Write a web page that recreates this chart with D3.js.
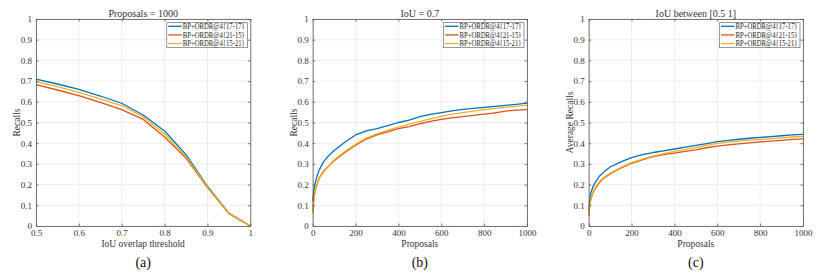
<!DOCTYPE html>
<html lang="en">
<head>
<meta charset="UTF-8">
<title>Recall curves</title>
<script src="https://d3js.org/d3.v7.min.js"></script>
<style>
  body { margin: 0; background: #fff; }
  svg { font-family: "Liberation Serif", "Times New Roman", serif; }
</style>
</head>
<body>
<script>
// series names and colours
var seriesNames = ["BP+ORDR@4{17-17}", "BP+ORDR@4{21-15}", "BP+ORDR@4{15-21}"];
var seriesColors = ["#0072BD", "#D95319", "#EDB120"];

// (a) recall vs IoU threshold, 1000 proposals
var iouThresh = [0.5, 0.55, 0.6, 0.65, 0.7, 0.75, 0.8, 0.85, 0.9, 0.95, 1.0];
var recallA_1717 = [0.709, 0.686, 0.660, 0.628, 0.593, 0.536, 0.459, 0.345, 0.192, 0.062, 0.0];
var recallA_2115 = [0.683, 0.657, 0.630, 0.597, 0.562, 0.515, 0.430, 0.328, 0.185, 0.060, 0.0];
var recallA_1521 = [0.698, 0.673, 0.646, 0.614, 0.582, 0.527, 0.445, 0.335, 0.188, 0.061, 0.0];

// (b) and (c) x values: number of proposals
var proposals = [0, 5, 10, 20, 30, 50, 75, 100, 150, 200, 250, 300, 350, 400, 450, 500,
                 550, 600, 650, 700, 750, 800, 850, 900, 950, 1000];

// (b) recall at IoU = 0.7
var recallB_1717 = [0.12, 0.17, 0.20, 0.24, 0.27, 0.31, 0.34, 0.365, 0.405, 0.44, 0.46, 0.47, 0.485, 0.50, 0.512,
                    0.528, 0.539, 0.548, 0.556, 0.563, 0.568, 0.573, 0.578, 0.583, 0.588, 0.594];
var recallB_2115 = [0.07, 0.13, 0.16, 0.20, 0.23, 0.265, 0.29, 0.315, 0.355, 0.39, 0.42, 0.44, 0.455, 0.47, 0.48,
                    0.494, 0.505, 0.515, 0.522, 0.528, 0.534, 0.54, 0.547, 0.555, 0.56, 0.562];
var recallB_1521 = [0.06, 0.12, 0.155, 0.20, 0.23, 0.26, 0.29, 0.32, 0.36, 0.395, 0.425, 0.445, 0.462, 0.478, 0.492,
                    0.505, 0.518, 0.53, 0.54, 0.548, 0.555, 0.562, 0.568, 0.573, 0.578, 0.584];

// (c) average recall, IoU between 0.5 and 1
var recallC_1717 = [0.07, 0.13, 0.16, 0.19, 0.21, 0.24, 0.265, 0.285, 0.31, 0.33, 0.345, 0.355, 0.363, 0.372, 0.381,
                    0.39, 0.398, 0.408, 0.414, 0.419, 0.424, 0.428, 0.432, 0.436, 0.44, 0.443];
var recallC_2115 = [0.05, 0.10, 0.13, 0.16, 0.18, 0.21, 0.235, 0.252, 0.28, 0.303, 0.32, 0.335, 0.345, 0.352, 0.36,
                    0.368, 0.378, 0.386, 0.392, 0.397, 0.402, 0.406, 0.41, 0.414, 0.418, 0.421];
var recallC_1521 = [0.05, 0.10, 0.13, 0.165, 0.185, 0.215, 0.238, 0.255, 0.283, 0.306, 0.323, 0.338, 0.35, 0.36, 0.37,
                    0.379, 0.39, 0.399, 0.405, 0.41, 0.415, 0.418, 0.422, 0.426, 0.43, 0.433];

var yTicks = [0, 0.1, 0.2, 0.3, 0.4, 0.5, 0.6, 0.7, 0.8, 0.9, 1];
var xTicksA = [0.5, 0.6, 0.7, 0.8, 0.9, 1];
var xTicksB = [0, 200, 400, 600, 800, 1000];

var panels = [
  { left: 36, title: "Proposals = 1000", xlabel: "IoU overlap threshold", ylabel: "Recalls", tag: "(a)",
    xs: iouThresh, domain: [0.5, 1], ticks: xTicksA, series: [recallA_1717, recallA_2115, recallA_1521] },
  { left: 312.7, title: "IoU = 0.7", xlabel: "Proposals", ylabel: "Recalls", tag: "(b)",
    xs: proposals, domain: [0, 1000], ticks: xTicksB, series: [recallB_1717, recallB_2115, recallB_1521] },
  { left: 588.7, title: "IoU between [0.5 1]", xlabel: "Proposals", ylabel: "Average Recalls", tag: "(c)",
    xs: proposals, domain: [0, 1000], ticks: xTicksB, series: [recallC_1717, recallC_2115, recallC_1521] }
];

var W = 830, H = 278;
var pw = 214.3, plotTop = 19, plotBottom = 226;

var svg = d3.select("body").append("svg")
  .attr("width", W)
  .attr("height", H);

var y = d3.scaleLinear().domain([0, 1]).range([plotBottom, plotTop]);

panels.forEach(function(p) {
  var x = d3.scaleLinear().domain(p.domain).range([p.left, p.left + pw]);
  var g = svg.append("g");

  // grid
  g.selectAll(".gx").data(p.ticks).enter().append("line")
    .attr("x1", function(d) { return x(d); }).attr("x2", function(d) { return x(d); })
    .attr("y1", plotTop).attr("y2", plotBottom)
    .attr("stroke", "#e8e8e8").attr("stroke-width", 0.8);
  g.selectAll(".gy").data(yTicks).enter().append("line")
    .attr("x1", p.left).attr("x2", p.left + pw)
    .attr("y1", function(d) { return y(d); }).attr("y2", function(d) { return y(d); })
    .attr("stroke", "#e8e8e8").attr("stroke-width", 0.8);

  // curves
  p.series.forEach(function(vals, i) {
    var pts = vals.map(function(v, k) { return [p.xs[k], v]; });
    g.append("path")
      .datum(pts)
      .attr("fill", "none")
      .attr("stroke", seriesColors[i])
      .attr("stroke-width", 1.3)
      .attr("stroke-linejoin", "round")
      .attr("d", d3.line().x(function(d) { return x(d[0]); }).y(function(d) { return y(d[1]); }));
  });

  // axes, matlab style: inward ticks, box on
  var axStyle = function(sel) {
    sel.attr("font-family", null);
    sel.select(".domain").attr("stroke", "#555").attr("stroke-width", 0.8);
    sel.selectAll(".tick line").attr("stroke", "#555").attr("stroke-width", 0.8);
    sel.selectAll(".tick text").attr("fill", "#333")
      .style("font-family", "'Liberation Serif', serif").style("font-size", "9px");
  };
  var fmtX = function(d) { return d3.format("~g")(d); };

  g.append("g").attr("transform", "translate(0," + plotBottom + ")")
    .call(d3.axisBottom(x).tickValues(p.ticks).tickFormat(fmtX).tickSizeInner(-2.5).tickSizeOuter(0).tickPadding(4))
    .call(axStyle);
  g.append("g").attr("transform", "translate(0," + plotTop + ")")
    .call(d3.axisTop(x).tickValues(p.ticks).tickFormat("").tickSizeInner(-2.5).tickSizeOuter(0))
    .call(axStyle);
  g.append("g").attr("transform", "translate(" + p.left + ",0)")
    .call(d3.axisLeft(y).tickValues(yTicks).tickFormat(d3.format("~g")).tickSizeInner(-2.5).tickSizeOuter(0).tickPadding(4))
    .call(axStyle);
  g.append("g").attr("transform", "translate(" + (p.left + pw) + ",0)")
    .call(d3.axisRight(y).tickValues(yTicks).tickFormat("").tickSizeInner(-2.5).tickSizeOuter(0))
    .call(axStyle);

  // texts
  g.append("text").attr("x", p.left + pw / 2).attr("y", 16.5)
    .attr("text-anchor", "middle").style("font-size", "10px").style("font-weight", "normal")
    .attr("fill", "#333").text(p.title);
  g.append("text").attr("x", p.left + pw / 2).attr("y", 246.5)
    .attr("text-anchor", "middle").style("font-size", "9.5px").attr("fill", "#333").text(p.xlabel);
  g.append("text")
    .attr("transform", "translate(" + (p.left - 16) + "," + ((plotTop + plotBottom) / 2) + ") rotate(-90)")
    .attr("text-anchor", "middle").style("font-size", "9.5px").attr("fill", "#333").text(p.ylabel);
  g.append("text").attr("x", p.left + pw / 2).attr("y", 267)
    .attr("text-anchor", "middle").style("font-size", "14px").attr("fill", "#111").text(p.tag);

  // legend
  var lx = p.left + pw - 83.5, ly = 22.7, lw = 80.5, lh = 25;
  var lg = g.append("g");
  lg.append("rect").attr("x", lx).attr("y", ly).attr("width", lw).attr("height", lh)
    .attr("fill", "#fff").attr("stroke", "#555").attr("stroke-width", 0.6);
  seriesNames.forEach(function(name, i) {
    var cy = ly + 3.6 + i * 8.6;
    lg.append("line").attr("x1", lx + 1.5).attr("x2", lx + 15)
      .attr("y1", cy).attr("y2", cy)
      .attr("stroke", seriesColors[i]).attr("stroke-width", 1.3);
    lg.append("text").attr("x", lx + 16).attr("y", cy + 2.7)
      .attr("textLength", 62).attr("lengthAdjust", "spacingAndGlyphs")
      .style("font-size", "8px").attr("fill", "#222").text(name);
  });
});
</script>
</body>
</html>
